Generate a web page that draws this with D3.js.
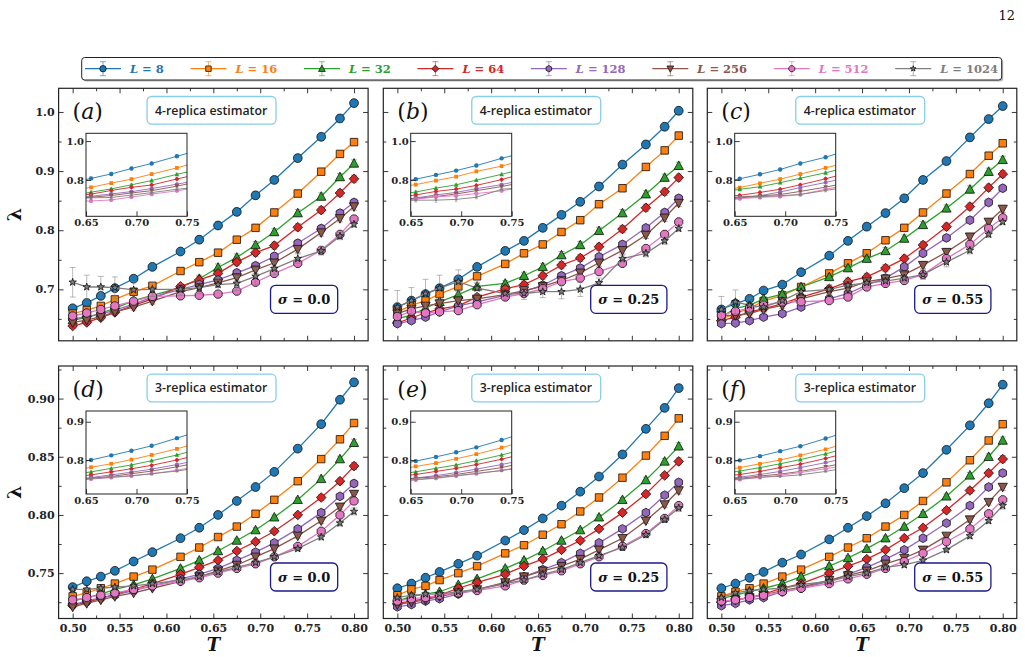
<!DOCTYPE html>
<html>
<head>
<meta charset="utf-8">
<script src="https://cdn.jsdelivr.net/npm/d3@7"></script>
<style>
  body { margin: 0; background: #fff; }
  svg { display: block; }
</style>
</head>
<body>
<div id="chart"></div>
<script>
// ---- data ----
const T = [0.50, 0.515, 0.53, 0.545, 0.565, 0.585, 0.615, 0.635, 0.655, 0.675, 0.695, 0.715, 0.74, 0.765, 0.785, 0.80];
const sizes = [8, 16, 32, 64, 128, 256, 512, 1024];
const colors = ["#1f77b4", "#ff7f0e", "#2ca02c", "#d62728", "#9467bd", "#8c564b", "#e377c2", "#7f7f7f"];
const shapes = ["circle", "square", "triUp", "diamond", "hexagon", "triDown", "octagon", "star"];

// (a) 4-replica, sigma = 0.0  (rows: L = 8 ... 1024)
const lamA = [
  [0.668, 0.677, 0.689, 0.702, 0.718, 0.738, 0.764, 0.784, 0.808, 0.831, 0.859, 0.885, 0.922, 0.958, 0.989, 1.015],
  [0.659, 0.665, 0.672, 0.683, 0.696, 0.706, 0.731, 0.746, 0.762, 0.784, 0.804, 0.830, 0.862, 0.899, 0.929, 0.949],
  [0.648, 0.652, 0.660, 0.668, 0.681, 0.690, 0.703, 0.718, 0.737, 0.754, 0.775, 0.797, 0.829, 0.857, 0.890, 0.913],
  [0.638, 0.644, 0.652, 0.661, 0.673, 0.684, 0.705, 0.716, 0.727, 0.746, 0.762, 0.774, 0.805, 0.834, 0.863, 0.887],
  [0.650, 0.654, 0.658, 0.665, 0.675, 0.687, 0.700, 0.708, 0.716, 0.728, 0.740, 0.756, 0.778, 0.803, 0.829, 0.847],
  [0.644, 0.648, 0.654, 0.662, 0.670, 0.680, 0.696, 0.703, 0.711, 0.720, 0.733, 0.745, 0.768, 0.796, 0.820, 0.840],
  [0.655, 0.660, 0.666, 0.672, 0.680, 0.688, 0.689, 0.690, 0.692, 0.697, 0.712, 0.727, 0.744, 0.766, 0.793, 0.819],
  [0.712, 0.704, 0.704, 0.703, 0.699, 0.700, 0.700, 0.703, 0.708, 0.710, 0.722, 0.735, 0.752, 0.765, 0.790, 0.810]
];
// (b) 4-replica, sigma = 0.25
const lamB = [
  [0.670, 0.681, 0.692, 0.702, 0.717, 0.738, 0.765, 0.782, 0.804, 0.826, 0.848, 0.874, 0.911, 0.945, 0.975, 1.002],
  [0.662, 0.673, 0.681, 0.692, 0.705, 0.722, 0.743, 0.761, 0.776, 0.797, 0.817, 0.844, 0.871, 0.907, 0.935, 0.960],
  [0.650, 0.657, 0.668, 0.679, 0.691, 0.705, 0.710, 0.723, 0.738, 0.758, 0.775, 0.799, 0.829, 0.861, 0.889, 0.909],
  [0.643, 0.652, 0.660, 0.667, 0.672, 0.687, 0.701, 0.708, 0.723, 0.741, 0.753, 0.772, 0.802, 0.838, 0.865, 0.889],
  [0.642, 0.647, 0.653, 0.662, 0.672, 0.679, 0.690, 0.696, 0.707, 0.723, 0.736, 0.755, 0.776, 0.804, 0.830, 0.854],
  [0.659, 0.667, 0.672, 0.676, 0.681, 0.684, 0.691, 0.698, 0.705, 0.715, 0.728, 0.745, 0.766, 0.792, 0.821, 0.846],
  [0.654, 0.663, 0.660, 0.662, 0.664, 0.674, 0.687, 0.693, 0.701, 0.713, 0.719, 0.730, 0.744, 0.769, 0.793, 0.814],
  [0.670, 0.681, 0.693, 0.702, 0.713, 0.702, 0.693, 0.693, 0.696, 0.696, 0.700, 0.711, 0.752, 0.761, 0.782, 0.803]
];
// (c) 4-replica, sigma = 0.55
const lamC = [
  [0.666, 0.676, 0.684, 0.698, 0.708, 0.729, 0.757, 0.782, 0.806, 0.829, 0.854, 0.885, 0.917, 0.957, 0.988, 1.010],
  [0.650, 0.659, 0.668, 0.680, 0.690, 0.704, 0.727, 0.744, 0.761, 0.783, 0.804, 0.830, 0.862, 0.895, 0.926, 0.947],
  [0.653, 0.668, 0.673, 0.684, 0.692, 0.704, 0.721, 0.736, 0.752, 0.765, 0.786, 0.809, 0.837, 0.869, 0.899, 0.919],
  [0.647, 0.653, 0.662, 0.667, 0.676, 0.687, 0.701, 0.713, 0.721, 0.736, 0.752, 0.775, 0.806, 0.840, 0.872, 0.895],
  [0.642, 0.643, 0.647, 0.653, 0.659, 0.670, 0.684, 0.693, 0.707, 0.719, 0.738, 0.761, 0.787, 0.817, 0.847, 0.871],
  [0.656, 0.656, 0.659, 0.666, 0.673, 0.684, 0.696, 0.702, 0.713, 0.718, 0.725, 0.741, 0.763, 0.789, 0.814, 0.836],
  [0.656, 0.663, 0.668, 0.673, 0.679, 0.679, 0.681, 0.687, 0.704, 0.710, 0.715, 0.725, 0.752, 0.776, 0.803, 0.821],
  [0.666, 0.679, 0.673, 0.670, 0.681, 0.696, 0.700, 0.707, 0.711, 0.714, 0.719, 0.725, 0.746, 0.766, 0.793, 0.814]
];
// (d) 3-replica, sigma = 0.0
const lamD = [
  [0.738, 0.743, 0.747, 0.752, 0.760, 0.768, 0.780, 0.789, 0.800, 0.812, 0.824, 0.837, 0.857, 0.878, 0.899, 0.914],
  [0.730, 0.733, 0.737, 0.741, 0.747, 0.753, 0.764, 0.772, 0.781, 0.790, 0.801, 0.813, 0.829, 0.848, 0.865, 0.879],
  [0.726, 0.729, 0.732, 0.736, 0.740, 0.745, 0.754, 0.761, 0.769, 0.778, 0.787, 0.798, 0.813, 0.831, 0.848, 0.862],
  [0.722, 0.725, 0.728, 0.732, 0.736, 0.741, 0.749, 0.755, 0.761, 0.769, 0.777, 0.786, 0.800, 0.815, 0.829, 0.842],
  [0.723, 0.726, 0.729, 0.731, 0.735, 0.739, 0.745, 0.749, 0.754, 0.761, 0.768, 0.776, 0.788, 0.802, 0.816, 0.827],
  [0.721, 0.724, 0.727, 0.730, 0.733, 0.737, 0.743, 0.747, 0.752, 0.757, 0.764, 0.771, 0.782, 0.795, 0.807, 0.818],
  [0.727, 0.729, 0.731, 0.733, 0.736, 0.739, 0.743, 0.746, 0.750, 0.754, 0.758, 0.764, 0.773, 0.786, 0.800, 0.812],
  [0.736, 0.736, 0.737, 0.738, 0.739, 0.741, 0.744, 0.747, 0.751, 0.755, 0.759, 0.764, 0.771, 0.781, 0.793, 0.803]
];
// (e) 3-replica, sigma = 0.25
const lamE = [
  [0.737, 0.741, 0.746, 0.751, 0.758, 0.765, 0.778, 0.787, 0.797, 0.808, 0.820, 0.833, 0.852, 0.874, 0.892, 0.909],
  [0.731, 0.736, 0.739, 0.744, 0.750, 0.756, 0.767, 0.774, 0.783, 0.792, 0.803, 0.815, 0.832, 0.851, 0.868, 0.883],
  [0.726, 0.730, 0.732, 0.734, 0.740, 0.745, 0.754, 0.761, 0.769, 0.778, 0.787, 0.798, 0.813, 0.830, 0.846, 0.859],
  [0.724, 0.726, 0.728, 0.731, 0.737, 0.742, 0.749, 0.756, 0.762, 0.770, 0.778, 0.788, 0.802, 0.818, 0.834, 0.846],
  [0.721, 0.723, 0.726, 0.728, 0.732, 0.736, 0.741, 0.747, 0.753, 0.759, 0.767, 0.776, 0.788, 0.802, 0.817, 0.828],
  [0.723, 0.725, 0.727, 0.730, 0.733, 0.736, 0.742, 0.747, 0.752, 0.756, 0.762, 0.770, 0.780, 0.795, 0.809, 0.821],
  [0.726, 0.728, 0.729, 0.731, 0.733, 0.735, 0.739, 0.744, 0.748, 0.752, 0.758, 0.764, 0.773, 0.784, 0.797, 0.808],
  [0.729, 0.731, 0.732, 0.732, 0.734, 0.736, 0.741, 0.744, 0.749, 0.753, 0.759, 0.765, 0.772, 0.783, 0.796, 0.806]
];
// (f) 3-replica, sigma = 0.55
const lamF = [
  [0.737, 0.741, 0.746, 0.751, 0.759, 0.766, 0.779, 0.789, 0.799, 0.810, 0.823, 0.836, 0.856, 0.877, 0.896, 0.912],
  [0.730, 0.734, 0.737, 0.741, 0.747, 0.753, 0.764, 0.772, 0.780, 0.790, 0.800, 0.812, 0.828, 0.847, 0.864, 0.878],
  [0.728, 0.731, 0.734, 0.737, 0.741, 0.747, 0.756, 0.763, 0.771, 0.780, 0.790, 0.801, 0.816, 0.834, 0.850, 0.864],
  [0.725, 0.727, 0.729, 0.732, 0.737, 0.741, 0.750, 0.756, 0.762, 0.770, 0.780, 0.789, 0.804, 0.821, 0.836, 0.848],
  [0.722, 0.724, 0.727, 0.729, 0.734, 0.737, 0.743, 0.749, 0.755, 0.762, 0.770, 0.780, 0.793, 0.808, 0.824, 0.836],
  [0.725, 0.727, 0.729, 0.731, 0.735, 0.738, 0.744, 0.748, 0.752, 0.758, 0.763, 0.770, 0.782, 0.796, 0.811, 0.824],
  [0.726, 0.727, 0.729, 0.731, 0.734, 0.737, 0.741, 0.745, 0.749, 0.754, 0.760, 0.767, 0.777, 0.788, 0.801, 0.813],
  [0.729, 0.733, 0.735, 0.736, 0.737, 0.740, 0.743, 0.747, 0.750, 0.755, 0.757, 0.761, 0.770, 0.782, 0.795, 0.808]
];

// error bars: L = 1024 in the top row is noisy, the rest are small
const err1024A = [0.025, 0.020, 0.018, 0.018, 0.014, 0.012, 0.010, 0.010, 0.010, 0.012, 0.013, 0.010, 0.008, 0.007, 0.006, 0.005];
const err1024B = [0.028, 0.022, 0.024, 0.022, 0.020, 0.010, 0.010, 0.010, 0.010, 0.012, 0.012, 0.008, 0.006, 0.006, 0.006, 0.005];
const err1024C = [0.022, 0.020, 0.012, 0.010, 0.008, 0.008, 0.008, 0.008, 0.008, 0.008, 0.008, 0.008, 0.008, 0.006, 0.005, 0.004];
const errTop = [0.004, 0.004, 0.004, 0.004, 0.005, 0.005, 0.005, 0.006, 0.006, 0.006, 0.006, 0.006, 0.006, 0.006, 0.006, 0.006];
const errBottom = [0.0015, 0.0015, 0.0015, 0.0015, 0.0015, 0.0015, 0.002, 0.002, 0.002, 0.002, 0.002, 0.002, 0.002, 0.0025, 0.0025, 0.003];

const xMajor = [0.50, 0.55, 0.60, 0.65, 0.70, 0.75, 0.80];
const xMinor = [0.525, 0.575, 0.625, 0.675, 0.725, 0.775];
const yMajor = [[0.7, 0.8, 0.9, 1.0], [0.75, 0.80, 0.85, 0.90]];
const yMinor = [[0.65, 0.75, 0.85, 0.95], [0.725, 0.775, 0.825, 0.875, 0.925]];
const insetX = [0.65, 0.70, 0.75];
const insetY = [[0.8, 1.0], [0.8, 0.9]];

const panels = [
  { tag: "a", lam: lamA, errBig: err1024A, errSmall: errTop, row: 0, col: 0, est: "4-replica estimator", sigma: "0.0" },
  { tag: "b", lam: lamB, errBig: err1024B, errSmall: errTop, row: 0, col: 1, est: "4-replica estimator", sigma: "0.25" },
  { tag: "c", lam: lamC, errBig: err1024C, errSmall: errTop, row: 0, col: 2, est: "4-replica estimator", sigma: "0.55" },
  { tag: "d", lam: lamD, errBig: errBottom, errSmall: errBottom, row: 1, col: 0, est: "3-replica estimator", sigma: "0.0" },
  { tag: "e", lam: lamE, errBig: errBottom, errSmall: errBottom, row: 1, col: 1, est: "3-replica estimator", sigma: "0.25" },
  { tag: "f", lam: lamF, errBig: errBottom, errSmall: errBottom, row: 1, col: 2, est: "3-replica estimator", sigma: "0.55" }
];

// ---- layout ----
const colLeft = [58.6, 383.3, 707.3];
const rowTop = [88.3, 366];
const panelW = 309.5, panelH = 252.5;
const xDomain = [0.485, 0.815];
const yDomains = [[0.613, 1.040], [0.711, 0.928]];
const serif = "'DejaVu Serif', serif";
const sans = "'Open Sans', 'DejaVu Sans', sans-serif";
const ink = "#222";

const svg = d3.select("#chart").append("svg").attr("width", 1025).attr("height", 657);
const defs = svg.append("defs");

function polygon(pts) {
  return "M" + pts.map(p => p[0].toFixed(2) + "," + p[1].toFixed(2)).join("L") + "Z";
}
function regular(n, r, rot) {
  return d3.range(n).map(i => {
    const a = rot + i * 2 * Math.PI / n;
    return [r * Math.sin(a), -r * Math.cos(a)];
  });
}
function markerPath(kind, s) {
  switch (kind) {
    case "circle": return d3.symbol(d3.symbolCircle, Math.PI * s * s)();
    case "square": return polygon([[-0.85 * s, -0.85 * s], [0.85 * s, -0.85 * s], [0.85 * s, 0.85 * s], [-0.85 * s, 0.85 * s]]);
    case "triUp": return polygon([[0, -1.1 * s], [1.05 * s, 0.85 * s], [-1.05 * s, 0.85 * s]]);
    case "triDown": return polygon([[0, 1.1 * s], [1.05 * s, -0.85 * s], [-1.05 * s, -0.85 * s]]);
    case "diamond": return polygon([[0, -1.1 * s], [1.1 * s, 0], [0, 1.1 * s], [-1.1 * s, 0]]);
    case "hexagon": return polygon(regular(6, s, 0));
    case "octagon": return polygon(regular(8, s, Math.PI / 8));
    case "star": {
      const pts = [];
      for (let i = 0; i < 10; i++) {
        const r = i % 2 ? s * 0.42 : s * 1.05;
        const a = i * Math.PI / 5;
        pts.push([r * Math.sin(a), -r * Math.cos(a)]);
      }
      return polygon(pts);
    }
  }
}

function drawSeries(g, x, y, lam, errs, st) {
  lam.forEach((vals, i) => {
    const pts = T.map((t, j) => ({ t: t, v: vals[j], e: errs[i][j] }));
    const sg = g.append("g");
    const line = d3.line().x(d => x(d.t)).y(d => y(d.v));
    sg.append("path").attr("d", line(pts))
      .attr("fill", "none").attr("stroke", colors[i]).attr("stroke-width", st.lw);
    const eb = sg.append("g").attr("stroke", colors[i]).attr("stroke-opacity", 0.55).attr("stroke-width", st.ew);
    eb.selectAll(".bar").data(pts).join("line").attr("class", "bar")
      .attr("x1", d => x(d.t)).attr("x2", d => x(d.t))
      .attr("y1", d => y(d.v - d.e)).attr("y2", d => y(d.v + d.e));
    eb.selectAll(".capt").data(pts).join("line").attr("class", "capt")
      .attr("x1", d => x(d.t) - st.cap).attr("x2", d => x(d.t) + st.cap)
      .attr("y1", d => y(d.v + d.e)).attr("y2", d => y(d.v + d.e));
    eb.selectAll(".capb").data(pts).join("line").attr("class", "capb")
      .attr("x1", d => x(d.t) - st.cap).attr("x2", d => x(d.t) + st.cap)
      .attr("y1", d => y(d.v - d.e)).attr("y2", d => y(d.v - d.e));
    sg.selectAll(".mk").data(pts).join("path").attr("class", "mk")
      .attr("transform", d => `translate(${x(d.t)},${y(d.v)})`)
      .attr("d", markerPath(shapes[i], shapes[i] === "star" ? st.ms * 0.85 : st.ms))
      .attr("fill", colors[i])
      .attr("stroke", st.edge ? "#111" : "none")
      .attr("stroke-width", 0.8);
  });
}

function addAxis(parent, gen, tx, ty, fontSize) {
  const a = parent.append("g").attr("transform", `translate(${tx},${ty})`).call(gen);
  a.attr("font-family", serif).attr("font-size", fontSize).attr("font-weight", "bold");
  a.select(".domain").remove();
  a.selectAll(".tick line").attr("stroke", ink).attr("stroke-width", 0.9);
  a.selectAll(".tick text").attr("fill", ink);
  return a;
}

const mainStyle = { lw: 1.3, ew: 1, cap: 3, ms: 4.4, edge: true };
const insetStyle = { lw: 0.9, ew: 0.7, cap: 1.5, ms: 2.2, edge: false };

panels.forEach(p => {
  const x0 = colLeft[p.col], y0 = rowTop[p.row];
  const x = d3.scaleLinear().domain(xDomain).range([x0, x0 + panelW]);
  const y = d3.scaleLinear().domain(yDomains[p.row]).range([y0 + panelH, y0]);
  const errs = sizes.map((L, i) => (i === 7 ? p.errBig : p.errSmall));
  const g = svg.append("g");

  // main plot
  const clipId = "clip-" + p.tag;
  defs.append("clipPath").attr("id", clipId).append("rect")
    .attr("x", x0).attr("y", y0).attr("width", panelW).attr("height", panelH);
  drawSeries(g.append("g").attr("clip-path", `url(#${clipId})`), x, y, p.lam, errs, mainStyle);

  // ticks on all four sides, pointing in
  const xFmt = p.row === 1 ? d3.format(".2f") : () => "";
  const yFmt = p.col === 0 ? (p.row === 0 ? d3.format(".1f") : d3.format(".2f")) : () => "";
  addAxis(g, d3.axisBottom(x).tickValues(xMajor).tickSizeInner(-5).tickSizeOuter(0).tickPadding(6).tickFormat(xFmt), 0, y0 + panelH, 11);
  addAxis(g, d3.axisBottom(x).tickValues(xMinor).tickSizeInner(-3).tickSizeOuter(0).tickFormat(""), 0, y0 + panelH, 11);
  addAxis(g, d3.axisTop(x).tickValues(xMajor).tickSizeInner(-5).tickSizeOuter(0).tickFormat(""), 0, y0, 11);
  addAxis(g, d3.axisTop(x).tickValues(xMinor).tickSizeInner(-3).tickSizeOuter(0).tickFormat(""), 0, y0, 11);
  addAxis(g, d3.axisLeft(y).tickValues(yMajor[p.row]).tickSizeInner(-5).tickSizeOuter(0).tickPadding(4).tickFormat(yFmt), x0, 0, 11);
  addAxis(g, d3.axisLeft(y).tickValues(yMinor[p.row]).tickSizeInner(-3).tickSizeOuter(0).tickFormat(""), x0, 0, 11);
  addAxis(g, d3.axisRight(y).tickValues(yMajor[p.row]).tickSizeInner(-5).tickSizeOuter(0).tickFormat(""), x0 + panelW, 0, 11);
  addAxis(g, d3.axisRight(y).tickValues(yMinor[p.row]).tickSizeInner(-3).tickSizeOuter(0).tickFormat(""), x0 + panelW, 0, 11);
  g.append("rect").attr("x", x0).attr("y", y0).attr("width", panelW).attr("height", panelH)
    .attr("fill", "none").attr("stroke", ink).attr("stroke-width", 1.2);

  // inset: same data, zoomed on 0.65 <= T <= 0.75
  const ix0 = x0 + 27.4, iy0 = y0 + 45, iw = 101, ih = 83;
  const xi = d3.scaleLinear().domain([0.65, 0.75]).range([ix0, ix0 + iw]);
  const yi = d3.scaleLinear().domain(yDomains[p.row]).range([iy0 + ih, iy0]);
  g.append("rect").attr("x", ix0).attr("y", iy0).attr("width", iw).attr("height", ih).attr("fill", "#fff");
  const iclip = "iclip-" + p.tag;
  defs.append("clipPath").attr("id", iclip).append("rect")
    .attr("x", ix0).attr("y", iy0).attr("width", iw).attr("height", ih);
  drawSeries(g.append("g").attr("clip-path", `url(#${iclip})`), xi, yi, p.lam, errs, insetStyle);
  addAxis(g, d3.axisBottom(xi).tickValues(insetX).tickSizeInner(-5).tickSizeOuter(0).tickPadding(3).tickFormat(d3.format(".2f")), 0, iy0 + ih, 10);
  addAxis(g, d3.axisLeft(yi).tickValues(insetY[p.row]).tickSizeInner(-5).tickSizeOuter(0).tickPadding(2).tickFormat(d3.format(".1f")), ix0, 0, 10);
  g.append("rect").attr("x", ix0).attr("y", iy0).attr("width", iw).attr("height", ih)
    .attr("fill", "none").attr("stroke", ink).attr("stroke-width", 1);

  // panel letter
  const lab = g.append("text").attr("x", x0 + 14).attr("y", y0 + 31)
    .attr("font-family", serif).attr("font-size", 22).attr("fill", "#111");
  lab.append("tspan").text("(");
  lab.append("tspan").attr("font-style", "italic").text(p.tag);
  lab.append("tspan").text(")");

  // estimator box
  const eg = g.append("g");
  const et = eg.append("text").attr("x", x0 + panelW * 0.493).attr("y", y0 + 22).attr("dy", "0.35em")
    .attr("text-anchor", "middle").attr("font-family", sans).attr("font-weight", 600)
    .attr("font-size", 12.3).attr("fill", "#222").text(p.est);
  const eb = et.node().getBBox();
  eg.insert("rect", "text").attr("x", eb.x - 8).attr("y", y0 + 22 - 13.8)
    .attr("width", eb.width + 16).attr("height", 27.6).attr("rx", 4.5)
    .attr("fill", "#fff").attr("stroke", "#87ceeb").attr("stroke-width", 1.3);

  // sigma box
  const sg = g.append("g");
  const st = sg.append("text").attr("x", x0 + panelW - 64).attr("y", y0 + 211).attr("dy", "0.35em")
    .attr("text-anchor", "middle").attr("font-family", serif).attr("font-weight", "bold")
    .attr("font-size", 13).attr("fill", "#111");
  st.append("tspan").attr("font-style", "italic").text("σ");
  st.append("tspan").text(" = " + p.sigma);
  const sb = st.node().getBBox();
  sg.insert("rect", "text").attr("x", sb.x - 7.5).attr("y", y0 + 211 - 14)
    .attr("width", sb.width + 15).attr("height", 28).attr("rx", 5)
    .attr("fill", "#fff").attr("stroke", "#1a1a8a").attr("stroke-width", 1.3);
});

// axis labels
rowTop.forEach(t => {
  svg.append("text").attr("transform", `translate(21,${t + panelH / 2}) rotate(-90)`)
    .attr("text-anchor", "middle").attr("font-family", serif).attr("font-weight", "bold")
    .attr("font-size", 19).attr("fill", "#111").text("λ");
});
colLeft.forEach(l => {
  svg.append("text").attr("x", l + panelW / 2).attr("y", 651)
    .attr("text-anchor", "middle").attr("font-family", serif).attr("font-weight", "bold")
    .attr("font-style", "italic").attr("font-size", 18).attr("fill", "#111").text("T");
});

// page number
svg.append("text").attr("x", 1015).attr("y", 20).attr("text-anchor", "end")
  .attr("font-family", serif).attr("font-size", 13).attr("fill", "#111").text("12");

// legend
const leg = svg.append("g");
leg.append("rect").attr("x", 83.2).attr("y", 59).attr("width", 920).attr("height", 22.5).attr("rx", 3)
  .attr("fill", "#888").attr("opacity", 0.6);
leg.append("rect").attr("x", 81.7).attr("y", 57.5).attr("width", 920).attr("height", 22.5).attr("rx", 3)
  .attr("fill", "#fff").attr("stroke", ink).attr("stroke-width", 1);
const legY = 68.7;
const items = sizes.map((L, i) => {
  const it = leg.append("g");
  const tx = it.append("text").attr("y", legY + 4).attr("font-family", serif).attr("font-weight", "bold")
    .attr("font-size", 11.5).attr("fill", colors[i]);
  tx.append("tspan").attr("font-style", "italic").text("L");
  tx.append("tspan").text(" = " + L);
  return { it: it, tx: tx, w: tx.node().getComputedTextLength() };
});
const handleW = 36, textGap = 9, legStart = 85, legEnd = 998;
const totalText = d3.sum(items, d => d.w);
const colGap = (legEnd - legStart - items.length * (handleW + textGap) - totalText) / (items.length - 1);
let cur = legStart;
items.forEach((d, i) => {
  const cx = cur + handleW / 2;
  d.it.insert("line", "text").attr("x1", cur).attr("x2", cur + handleW).attr("y1", legY).attr("y2", legY)
    .attr("stroke", colors[i]).attr("stroke-width", 1.3);
  const e = d.it.insert("g", "text").attr("stroke", colors[i]).attr("stroke-opacity", 0.6).attr("stroke-width", 1);
  e.append("line").attr("x1", cx).attr("x2", cx).attr("y1", legY - 7).attr("y2", legY + 7);
  e.append("line").attr("x1", cx - 3).attr("x2", cx + 3).attr("y1", legY - 7).attr("y2", legY - 7);
  e.append("line").attr("x1", cx - 3).attr("x2", cx + 3).attr("y1", legY + 7).attr("y2", legY + 7);
  d.it.insert("path", "text").attr("transform", `translate(${cx},${legY})`)
    .attr("d", markerPath(shapes[i], shapes[i] === "star" ? 2.8 : 3.2)).attr("fill", colors[i]).attr("stroke", "#111").attr("stroke-width", 0.8);
  d.tx.attr("x", cur + handleW + textGap);
  cur += handleW + textGap + d.w + colGap;
});
</script>
</body>
</html>
